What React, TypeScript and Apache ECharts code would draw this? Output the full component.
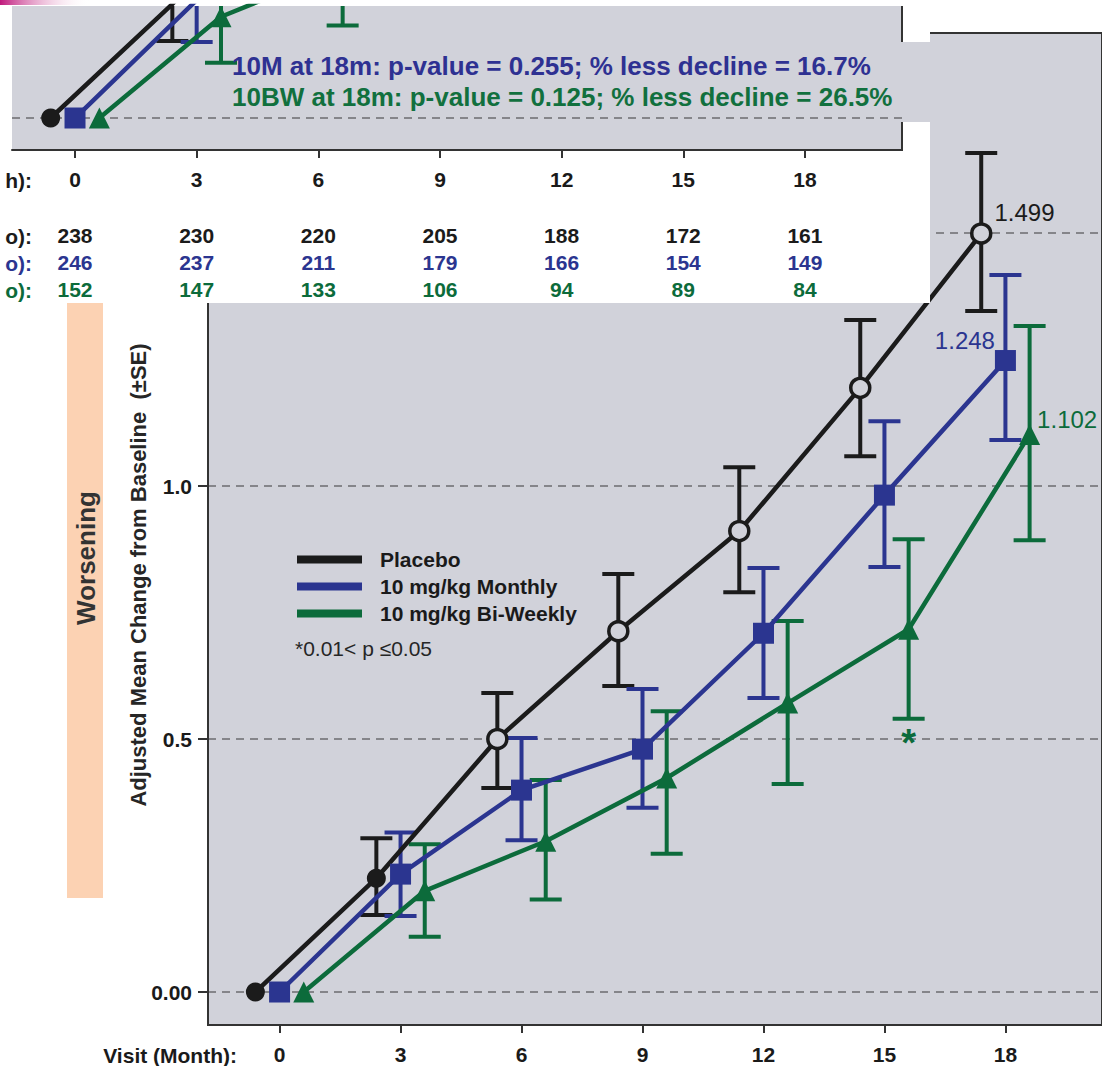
import React, { useEffect, useRef } from 'react';
import * as echarts from 'echarts';

// ---------------- data ----------------
const months = [0, 3, 6, 9, 12, 15, 18];

const placeboMean = [0, 0.225, 0.5, 0.713, 0.911, 1.194, 1.499];
const placeboLo = [0, 0.152, 0.403, 0.605, 0.79, 1.059, 1.346];
const placeboHi = [0, 0.304, 0.591, 0.826, 1.037, 1.328, 1.658];

const monthlyMean = [0, 0.233, 0.399, 0.48, 0.709, 0.982, 1.248];
const monthlyLo = [0, 0.15, 0.3, 0.364, 0.581, 0.84, 1.091];
const monthlyHi = [0, 0.315, 0.502, 0.599, 0.838, 1.128, 1.417];

const biWeeklyMean = [0, 0.2, 0.298, 0.423, 0.571, 0.717, 1.102];
const biWeeklyLo = [0, 0.109, 0.183, 0.273, 0.411, 0.54, 0.893];
const biWeeklyHi = [0, 0.292, 0.419, 0.555, 0.733, 0.895, 1.316];
const biWeeklySig = ['', '', '', '', '', '*', ''];

const nPlacebo = [238, 230, 220, 205, 188, 172, 161];
const nMonthly = [246, 237, 211, 179, 166, 154, 149];
const nBiWeekly = [152, 147, 133, 106, 94, 89, 84];

const gridValues = [0, 0.5, 1.0, 1.5];
const yLabelValues = [0, 0.5, 1.0];

const seriesNames = ['Placebo', '10 mg/kg Monthly', '10 mg/kg Bi-Weekly'];
const snipAxisLabel = 'h):';
const rowLabels = ['o):', 'o):', 'o):'];
const noteText = '*0.01< p \u22640.05';
const pText1 = '10M at 18m: p-value = 0.255; % less decline = 16.7%';
const pText2 = '10BW at 18m: p-value = 0.125; % less decline = 26.5%';

// ---------------- styles ----------------
const FONT = '"Liberation Sans", Arial, Helvetica, sans-serif';
const BG = '#d1d2da';
const BLACK = '#1b1b1b';
const BLUE = '#2b3590';
const GREEN = '#0c6b3b';
const AXIS = '#333333';

const groups = [
  { name: seriesNames[0], mean: placeboMean, lo: placeboLo, hi: placeboHi, sig: [] as string[], offset: -0.6, color: BLACK, symbol: 'circle', size: 19 },
  { name: seriesNames[1], mean: monthlyMean, lo: monthlyLo, hi: monthlyHi, sig: [] as string[], offset: 0, color: BLUE, symbol: 'rect', size: 21 },
  { name: seriesNames[2], mean: biWeeklyMean, lo: biWeeklyLo, hi: biWeeklyHi, sig: biWeeklySig, offset: 0.6, color: GREEN, symbol: 'triangle', size: 21 },
];

function gridLineSeries() {
  return {
    type: 'custom',
    name: 'gridlines',
    silent: true,
    z: 0,
    clip: true,
    data: gridValues.map((v) => [0, v]),
    encode: { x: 0, y: 1 },
    renderItem: (params: any, api: any) => {
      const cs = params.coordSys;
      const y = api.coord([0, api.value(1)])[1];
      return {
        type: 'line',
        shape: { x1: cs.x, y1: y, x2: cs.x + cs.width, y2: y },
        style: { stroke: '#6c6c70', lineWidth: 1.5, lineDash: [8, 6] },
      };
    },
  };
}

function errorSeries(g: any, withMarks: boolean) {
  const data: number[][] = [];
  months.forEach((m, i) => {
    if (g.hi[i] > g.lo[i]) data.push([m + g.offset, g.lo[i], g.hi[i], i]);
  });
  return {
    type: 'custom',
    name: g.name + ' SE',
    silent: true,
    z: 1,
    clip: true,
    data,
    encode: { x: 0, y: [1, 2] },
    renderItem: (params: any, api: any) => {
      const x = api.value(0);
      const top = api.coord([x, api.value(2)]);
      const bot = api.coord([x, api.value(1)]);
      const idx = api.value(3);
      const hw = 16;
      const st = { stroke: g.color, lineWidth: 4 };
      const children: any[] = [
        { type: 'line', shape: { x1: top[0], y1: top[1], x2: bot[0], y2: bot[1] }, style: st },
        { type: 'line', shape: { x1: top[0] - hw, y1: top[1], x2: top[0] + hw, y2: top[1] }, style: st },
        { type: 'line', shape: { x1: bot[0] - hw, y1: bot[1], x2: bot[0] + hw, y2: bot[1] }, style: st },
      ];
      if (withMarks && g.sig[idx]) {
        children.push({
          type: 'text',
          x: bot[0],
          y: bot[1] + 5,
          style: { text: g.sig[idx], fill: g.color, font: 'bold 38px ' + FONT, textAlign: 'center', textVerticalAlign: 'top' },
        });
      }
      return { type: 'group', children };
    },
  };
}

const endLabelPos: any[] = [
  { position: 'right', distance: 2, offset: [0, -21] },
  { position: 'left', distance: 0, offset: [0, -20] },
  { position: 'right', distance: -3, offset: [0, -15] },
];

function lineSeries(g: any, gi: number, withLabels: boolean) {
  const last = months.length - 1;
  return {
    type: 'line',
    name: g.name,
    z: 3,
    clip: true,
    symbol: g.symbol,
    symbolSize: g.size,
    lineStyle: { color: g.color, width: 4.5 },
    itemStyle: { color: g.color },
    data: months.map((m, i) => {
      const item: any = { value: [m + g.offset, g.mean[i]] };
      if (g.symbol === 'circle' && i > 1) {
        item.itemStyle = { color: BG, borderColor: g.color, borderWidth: 3.5 };
      }
      if (withLabels && i === last) {
        item.label = {
          show: true,
          formatter: g.mean[i].toFixed(3),
          color: g.color,
          fontSize: 24,
          fontFamily: FONT,
          ...endLabelPos[gi],
        };
      }
      return item;
    }),
  };
}

function buildSeries(isMain: boolean) {
  const s: any[] = [gridLineSeries()];
  groups.forEach((g) => s.push(errorSeries(g, isMain)));
  [2, 0, 1].forEach((gi) => s.push(lineSeries(groups[gi], gi, isMain)));
  return s;
}

const tickLabelStyle = { fontSize: 21, fontWeight: 'bold', color: '#1a1a1a', fontFamily: FONT };

function buildMain(): any {
  return {
    animation: false,
    backgroundColor: '#ffffff',
    grid: { left: 208, top: 33, width: 899, height: 992, show: true, backgroundColor: BG, borderColor: AXIS, borderWidth: 2 },
    xAxis: {
      type: 'value',
      min: -1.775,
      max: 20.395,
      axisLine: { show: true, onZero: false, lineStyle: { color: AXIS, width: 2 } },
      axisTick: { show: true, customValues: months, length: 8, lineStyle: { color: AXIS, width: 2 } },
      axisLabel: { customValues: months, margin: 19, ...tickLabelStyle },
      splitLine: { show: false },
    },
    yAxis: {
      type: 'value',
      min: -0.0652,
      max: 1.8953,
      axisLine: { show: true, onZero: false, lineStyle: { color: AXIS, width: 2 } },
      axisTick: { show: true, customValues: gridValues, length: 10, lineStyle: { color: AXIS, width: 2 } },
      axisLabel: {
        customValues: yLabelValues,
        margin: 16,
        formatter: (v: number) => (v === 0 ? '0.00' : v.toFixed(1)),
        ...tickLabelStyle,
      },
      splitLine: { show: false },
    },
    legend: {
      orient: 'vertical',
      left: 292,
      top: 544,
      icon: 'rect',
      itemWidth: 65,
      itemHeight: 8,
      itemGap: 6,
      data: seriesNames,
      selectedMode: false,
      textStyle: { fontSize: 21, fontWeight: 'bold', color: '#1a1a1a', lineHeight: 21, fontFamily: FONT, padding: [0, 0, 0, 13] },
    },
    graphic: [
      { type: 'rect', shape: { x: 67, y: 303, width: 36, height: 595 }, style: { fill: '#fcd2b3' }, silent: true },
      {
        type: 'text', x: 86, y: 558, rotation: Math.PI / 2, silent: true,
        style: { text: 'Worsening', font: 'bold 26px ' + FONT, fill: '#333333', textAlign: 'center', textVerticalAlign: 'middle' },
      },
      {
        type: 'text', x: 138, y: 575, rotation: Math.PI / 2, silent: true,
        style: { text: 'Adjusted Mean Change from Baseline  (\u00b1SE)', font: 'bold 22px ' + FONT, fill: '#262626', textAlign: 'center', textVerticalAlign: 'middle' },
      },
      {
        type: 'text', x: 295, y: 648, silent: true,
        style: { text: noteText, font: '21px ' + FONT, fill: '#262626', textAlign: 'left', textVerticalAlign: 'middle' },
      },
      {
        type: 'text', x: 237, y: 1055, silent: true,
        style: { text: 'Visit (Month):', font: 'bold 21px ' + FONT, fill: '#1a1a1a', textAlign: 'right', textVerticalAlign: 'middle' },
      },
    ],
    series: buildSeries(true),
  };
}

const rowOffsets = [56, 83, 110];
const rowCounts = [nPlacebo, nMonthly, nBiWeekly];
const rowColors = [BLACK, BLUE, GREEN];

function buildSnip(): any {
  const xMin = -1.554;
  const xMax = 20.394;
  const extraAxes = rowCounts.map((counts, r) => ({
    type: 'value',
    min: xMin,
    max: xMax,
    position: 'bottom',
    offset: rowOffsets[r],
    axisLine: { show: false, onZero: false },
    axisTick: { show: false },
    splitLine: { show: false },
    axisLabel: {
      customValues: months,
      margin: 19,
      ...tickLabelStyle,
      color: rowColors[r],
      formatter: (v: number) => String(counts[months.indexOf(Math.round(v))]),
    },
  }));
  return {
    animation: false,
    backgroundColor: '#ffffff',
    grid: { left: 12, top: 6, width: 890, height: 144, show: true, backgroundColor: BG, borderWidth: 0 },
    xAxis: [
      {
        type: 'value',
        min: xMin,
        max: xMax,
        axisLine: { show: true, onZero: false, lineStyle: { color: AXIS, width: 2 } },
        axisTick: { show: true, customValues: months, length: 8, lineStyle: { color: AXIS, width: 2 } },
        axisLabel: { customValues: months, margin: 19, ...tickLabelStyle },
        splitLine: { show: false },
      },
      ...extraAxes,
    ],
    yAxis: { type: 'value', min: -0.0632, max: 0.2213, show: false, axisLine: { onZero: false }, splitLine: { show: false } },
    graphic: [
      {
        type: 'rect', shape: { x: 0, y: 0, width: 90, height: 5 }, silent: true,
        style: {
          fill: new echarts.graphic.LinearGradient(0, 0, 1, 0, [
            { offset: 0, color: '#c0197c' },
            { offset: 1, color: 'rgba(255,255,255,0)' },
          ]),
        },
      },
      { type: 'rect', shape: { x: 902, y: 42, width: 28, height: 80 }, style: { fill: BG }, silent: true },
      { type: 'line', shape: { x1: 902, y1: 6, x2: 902, y2: 42 }, style: { stroke: AXIS, lineWidth: 2 }, silent: true },
      { type: 'line', shape: { x1: 902, y1: 122, x2: 902, y2: 151 }, style: { stroke: AXIS, lineWidth: 2 }, silent: true },
      {
        type: 'text', x: 232, y: 66, silent: true, z: 10,
        style: { text: pText1, font: 'bold 26px ' + FONT, fill: '#2e3192', textAlign: 'left', textVerticalAlign: 'middle' },
      },
      {
        type: 'text', x: 232, y: 97, silent: true, z: 10,
        style: { text: pText2, font: 'bold 26px ' + FONT, fill: '#11703e', textAlign: 'left', textVerticalAlign: 'middle' },
      },
      {
        type: 'text', x: 32, y: 180, silent: true,
        style: { text: snipAxisLabel, font: 'bold 21px ' + FONT, fill: '#1a1a1a', textAlign: 'right', textVerticalAlign: 'middle' },
      },
      ...rowLabels.map((t, r) => ({
        type: 'text', x: 32, y: 180 + rowOffsets[r], silent: true,
        style: { text: t, font: 'bold 21px ' + FONT, fill: rowColors[r], textAlign: 'right', textVerticalAlign: 'middle' },
      })),
    ],
    series: buildSeries(false),
  };
}

export default function App() {
  const mainRef = useRef<HTMLDivElement>(null);
  const snipRef = useRef<HTMLDivElement>(null);
  useEffect(() => {
    const main = echarts.init(mainRef.current as HTMLDivElement, undefined, { renderer: 'svg' });
    main.setOption(buildMain());
    const snip = echarts.init(snipRef.current as HTMLDivElement, undefined, { renderer: 'svg' });
    snip.setOption(buildSnip());
    return () => {
      main.dispose();
      snip.dispose();
    };
  }, []);
  return (
    <div style={{ position: 'absolute', left: 0, top: 0, width: 1102, height: 1066, background: '#fff', overflow: 'hidden' }}>
      <div ref={mainRef} style={{ position: 'absolute', left: 0, top: 0, width: 1102, height: 1066 }} />
      <div style={{ position: 'absolute', left: 0, top: 0, width: 930, height: 303, background: '#fff' }}>
        <div ref={snipRef} style={{ width: 930, height: 303 }} />
      </div>
    </div>
  );
}
